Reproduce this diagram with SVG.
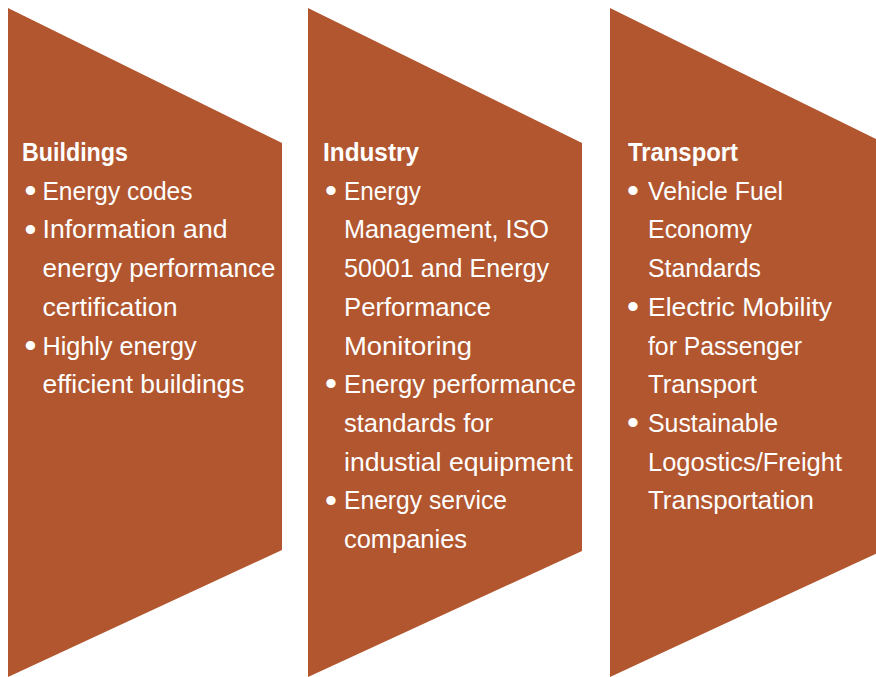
<svg xmlns="http://www.w3.org/2000/svg" width="876" height="677" viewBox="0 0 876 677">
<style>
.shape{fill:#B1562F}
text{font-family:"Liberation Sans",Arial,sans-serif;fill:#FFFFFF}
.h{font-size:25px;font-weight:bold}
.t{font-size:25px}
.b{font-size:34px;text-anchor:middle}
</style>
<rect width="876" height="677" fill="#FFFFFF"/>
<g id="buildings">
<polygon class="shape" points="8,8 282,143 282,550 8,677"/>
<text class="h" x="22" y="161" textLength="106" lengthAdjust="spacingAndGlyphs">Buildings</text>
<text class="b" x="30.5" y="202">•</text>
<text class="t" x="42.5" y="199.7" textLength="150" lengthAdjust="spacingAndGlyphs">Energy codes</text>
<text class="b" x="30.5" y="240.7">•</text>
<text class="t" x="42.5" y="238.4" textLength="185" lengthAdjust="spacingAndGlyphs">Information and</text>
<text class="t" x="42.5" y="277" textLength="233" lengthAdjust="spacingAndGlyphs">energy performance</text>
<text class="t" x="42.5" y="315.8" textLength="135" lengthAdjust="spacingAndGlyphs">certification</text>
<text class="b" x="30.5" y="356.8">•</text>
<text class="t" x="42.5" y="354.5" textLength="154" lengthAdjust="spacingAndGlyphs">Highly energy</text>
<text class="t" x="42.5" y="393" textLength="202" lengthAdjust="spacingAndGlyphs">efficient buildings</text>
</g>
<g id="industry">
<polygon class="shape" points="308,8 582,143 582,551 308,677"/>
<text class="h" x="323" y="161" textLength="96" lengthAdjust="spacingAndGlyphs">Industry</text>
<text class="b" x="331" y="202">•</text>
<text class="t" x="344" y="199.7" textLength="77" lengthAdjust="spacingAndGlyphs">Energy</text>
<text class="t" x="344" y="238.4" textLength="205" lengthAdjust="spacingAndGlyphs">Management, ISO</text>
<text class="t" x="344" y="277" textLength="205" lengthAdjust="spacingAndGlyphs">50001 and Energy</text>
<text class="t" x="344" y="315.8" textLength="147" lengthAdjust="spacingAndGlyphs">Performance</text>
<text class="t" x="344" y="354.5" textLength="128" lengthAdjust="spacingAndGlyphs">Monitoring</text>
<text class="b" x="331" y="395.3">•</text>
<text class="t" x="344" y="393" textLength="232" lengthAdjust="spacingAndGlyphs">Energy performance</text>
<text class="t" x="344" y="431.8" textLength="149" lengthAdjust="spacingAndGlyphs">standards for</text>
<text class="t" x="344" y="470.5" textLength="229" lengthAdjust="spacingAndGlyphs">industial equipment</text>
<text class="b" x="331" y="511.5">•</text>
<text class="t" x="344" y="509.2" textLength="163" lengthAdjust="spacingAndGlyphs">Energy service</text>
<text class="t" x="344" y="548" textLength="123" lengthAdjust="spacingAndGlyphs">companies</text>
</g>
<g id="transport">
<polygon class="shape" points="610,8 884,143 884,550 610,677"/>
<text class="h" x="628" y="161" textLength="110" lengthAdjust="spacingAndGlyphs">Transport</text>
<text class="b" x="633" y="202">•</text>
<text class="t" x="648" y="199.7" textLength="135" lengthAdjust="spacingAndGlyphs">Vehicle Fuel</text>
<text class="t" x="648" y="238.4" textLength="104" lengthAdjust="spacingAndGlyphs">Economy</text>
<text class="t" x="648" y="277" textLength="113" lengthAdjust="spacingAndGlyphs">Standards</text>
<text class="b" x="633" y="318.1">•</text>
<text class="t" x="648" y="315.8" textLength="184" lengthAdjust="spacingAndGlyphs">Electric Mobility</text>
<text class="t" x="648" y="354.5" textLength="154" lengthAdjust="spacingAndGlyphs">for Passenger</text>
<text class="t" x="648" y="393" textLength="109" lengthAdjust="spacingAndGlyphs">Transport</text>
<text class="b" x="633" y="434.1">•</text>
<text class="t" x="648" y="431.8" textLength="130" lengthAdjust="spacingAndGlyphs">Sustainable</text>
<text class="t" x="648" y="470.5" textLength="194" lengthAdjust="spacingAndGlyphs">Logostics/Freight</text>
<text class="t" x="648" y="509.2" textLength="166" lengthAdjust="spacingAndGlyphs">Transportation</text>
</g>
</svg>
